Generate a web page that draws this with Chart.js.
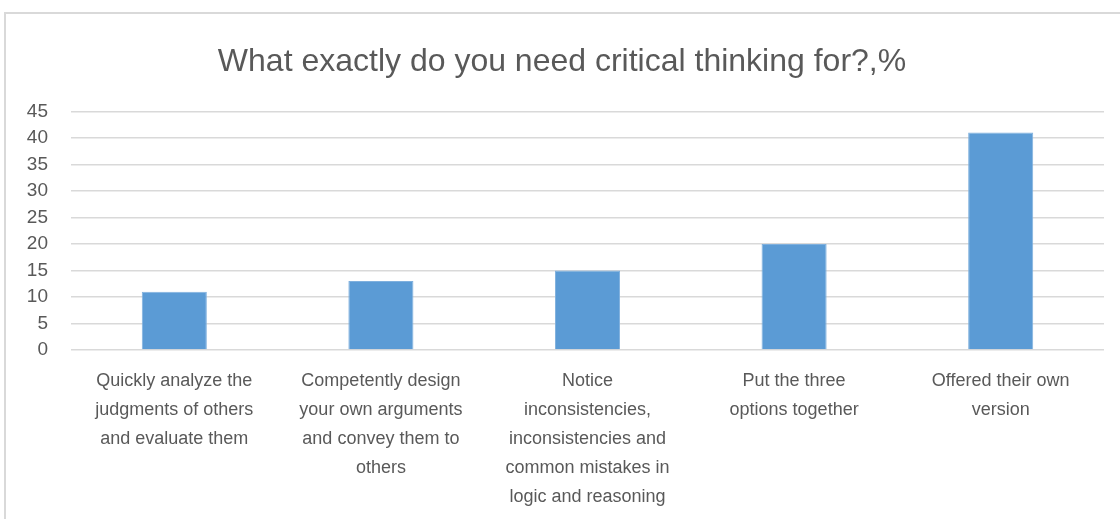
<!DOCTYPE html>
<html>
<head>
<meta charset="utf-8">
<script src="https://cdn.jsdelivr.net/npm/chart.js@4/dist/chart.umd.min.js"></script>
<style>
  html, body { margin: 0; padding: 0; background: #ffffff; }
  #wrap { position: relative; width: 1120px; height: 519px; overflow: hidden; background: #fff; }
  #frame { position: absolute; left: 4px; top: 12px; width: 1200px; height: 600px; border: 2px solid #d9d9d9; box-sizing: border-box; }
  #c { position: absolute; left: 0; top: 0; }
</style>
</head>
<body>
<div id="wrap">
  <div id="frame"></div>
  <canvas id="c" width="1120" height="519"></canvas>
</div>
<script>
const chartTitle = "What exactly do you need critical thinking for?,%";
const categories = [
  ["Quickly analyze the", "judgments of others", "and evaluate them"],
  ["Competently design", "your own arguments", "and convey them to", "others"],
  ["Notice", "inconsistencies,", "inconsistencies and", "common mistakes in", "logic and reasoning"],
  ["Put the three", "options together"],
  ["Offered their own", "version"]
];
const values = [11, 13, 15, 20, 41];
const yTicks = [0, 5, 10, 15, 20, 25, 30, 35, 40, 45];

const textColor = "#595959";
const fontFam = "'Liberation Sans', Arial, sans-serif";

new Chart(document.getElementById("c"), {
  type: "bar",
  data: {
    labels: categories,
    datasets: [{
      data: values,
      backgroundColor: "#5b9bd5",
      borderColor: "#7fb0de",
      borderWidth: 1,
      barPercentage: 0.63,
      categoryPercentage: 0.5
    }]
  },
  options: {
    responsive: false,
    animation: false,
    layout: { padding: { left: 20, right: 16, top: 43, bottom: 0 } },
    plugins: {
      legend: { display: false },
      tooltip: { enabled: false },
      title: {
        display: true,
        text: chartTitle,
        color: textColor,
        font: { family: fontFam, size: 32, weight: "normal", lineHeight: 1.2 },
        padding: { top: 0, bottom: 30 }
      }
    },
    scales: {
      x: {
        afterFit: (axis) => { axis.height = 169; },
        grid: { display: false, drawTicks: false },
        border: { display: false },
        ticks: {
          color: textColor,
          font: { family: fontFam, size: 18, lineHeight: 1.6 },
          maxRotation: 0,
          autoSkip: false,
          padding: 17
        }
      },
      y: {
        min: 0,
        max: 45,
        afterBuildTicks: (axis) => { axis.ticks = yTicks.map(v => ({ value: v })); },
        afterFit: (axis) => { axis.width = 51; },
        grid: { color: "#d9d9d9", lineWidth: 1.5, drawTicks: false },
        border: { display: false },
        ticks: {
          color: textColor,
          font: { family: fontFam, size: 19 },
          padding: 23
        }
      }
    }
  }
});
</script>
</body>
</html>
